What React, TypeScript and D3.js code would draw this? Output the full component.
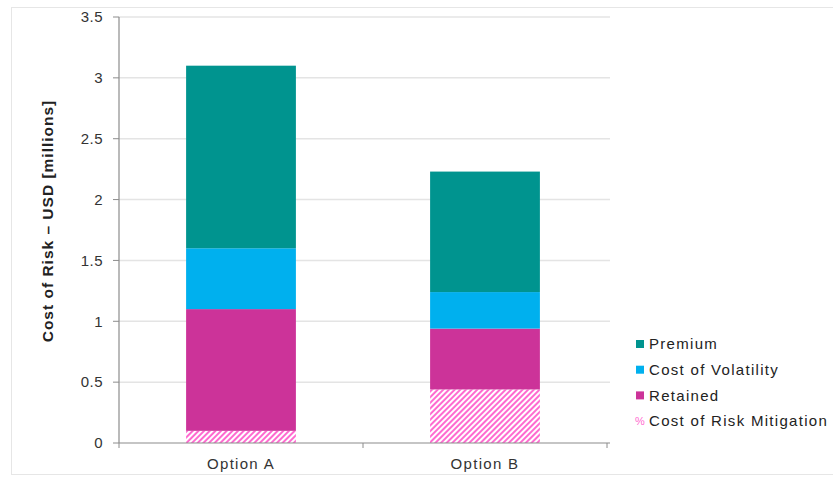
import React from "react";
import * as d3 from "d3";

const categories = ["Option A", "Option B"];
const seriesNames = ["Cost of Risk Mitigation", "Retained", "Cost of Volatility", "Premium"];
const mitigation = [0.1, 0.44];
const retained = [1.0, 0.5];
const volatility = [0.5, 0.3];
const premium = [1.5, 0.99];
const yTicks = [0, 0.5, 1, 1.5, 2, 2.5, 3, 3.5];
const yTickLabels = ["0", "0.5", "1", "1.5", "2", "2.5", "3", "3.5"];

const colors: Record<string, string> = {
  "Premium": "#00948f",
  "Cost of Volatility": "#00b0ee",
  "Retained": "#cc3399",
  "Cost of Risk Mitigation": "url(#hatch)",
};

export default function App() {
  const W = 833, H = 477;
  const left = 119, right = 607, top = 17, bottom = 443;
  const x = d3.scaleBand<string>().domain(categories).range([left, right]).paddingInner(0.55).paddingOuter(0.275);
  const y = d3.scaleLinear().domain([0, 3.5]).range([bottom, top]);
  const table = categories.map((c, i) => ({
    cat: c,
    "Cost of Risk Mitigation": mitigation[i],
    "Retained": retained[i],
    "Cost of Volatility": volatility[i],
    "Premium": premium[i],
  }));
  const stacked = d3.stack<any>().keys(seriesNames)(table);
  const legendOrder = ["Premium", "Cost of Volatility", "Retained", "Cost of Risk Mitigation"];
  const font = "Arial, 'Liberation Sans', sans-serif";
  const bandStep = (right - left) / categories.length;
  return (
    <svg width={W} height={H} style={{ position: "absolute", left: 0, top: 0, background: "#fff" }} fontFamily={font}>
      <defs>
        <pattern id="hatch" patternUnits="userSpaceOnUse" width="4" height="4" patternTransform="rotate(45)">
          <rect width="4" height="4" fill="#fff" />
          <rect width="2" height="4" fill="#ff6ad0" />
        </pattern>
      </defs>
      <rect x={11.5} y={7.5} width={W + 10} height={H - 10} fill="none" stroke="#e6e6e6" />
      {yTicks.map((t, i) => (
        <g key={t}>
          {t > 0 && <line x1={left} x2={right + 3} y1={y(t)} y2={y(t)} stroke="#e4e4e4" strokeWidth={1.5} />}
          <line x1={left - 6} x2={left} y1={y(t)} y2={y(t)} stroke="#8c8c8c" />
          <text x={left - 16} y={y(t)} dy="0.35em" textAnchor="end" fontSize={15} letterSpacing={0.5} fill="#333">{yTickLabels[i]}</text>
        </g>
      ))}
      {stacked.map((s) => (
        <g key={s.key}>
          {s.map((d, j) => (
            <rect key={j} x={x(categories[j])} width={x.bandwidth()} y={y(d[1])} height={y(d[0]) - y(d[1])} fill={colors[s.key]} />
          ))}
        </g>
      ))}
      <line x1={left} x2={left} y1={top} y2={bottom} stroke="#8c8c8c" strokeWidth={1.2} />
      <line x1={left} x2={right + 3} y1={bottom} y2={bottom} stroke="#8c8c8c" strokeWidth={1.2} />
      {[0, 1, 2].map((k) => (
        <line key={k} x1={left + k * bandStep} x2={left + k * bandStep} y1={bottom} y2={bottom + 5} stroke="#8c8c8c" />
      ))}
      {categories.map((c) => (
        <text key={c} x={(x(c) as number) + x.bandwidth() / 2} y={469} textAnchor="middle" fontSize={15} letterSpacing={1.3} fill="#333">{c}</text>
      ))}
      <text transform={`translate(53,221) rotate(-90)`} textAnchor="middle" fontSize={15.5} letterSpacing={1} fontWeight="bold" fill="#222">
        Cost of Risk – USD [millions]
      </text>
      {legendOrder.map((k, i) => (
        <g key={k} transform={`translate(636,${344 + i * 25.7})`}>
          {k === "Cost of Risk Mitigation" ? (
            <text x={-1} y={0} dy="0.35em" fontSize={11} fill="#ff6ad0">%</text>
          ) : (
            <rect x={0} y={-4} width={8} height={8} fill={colors[k]} />
          )}
          <text x={13} y={0} dy="0.35em" fontSize={15} letterSpacing={1.3} fill="#222">{k}</text>
        </g>
      ))}
    </svg>
  );
}
